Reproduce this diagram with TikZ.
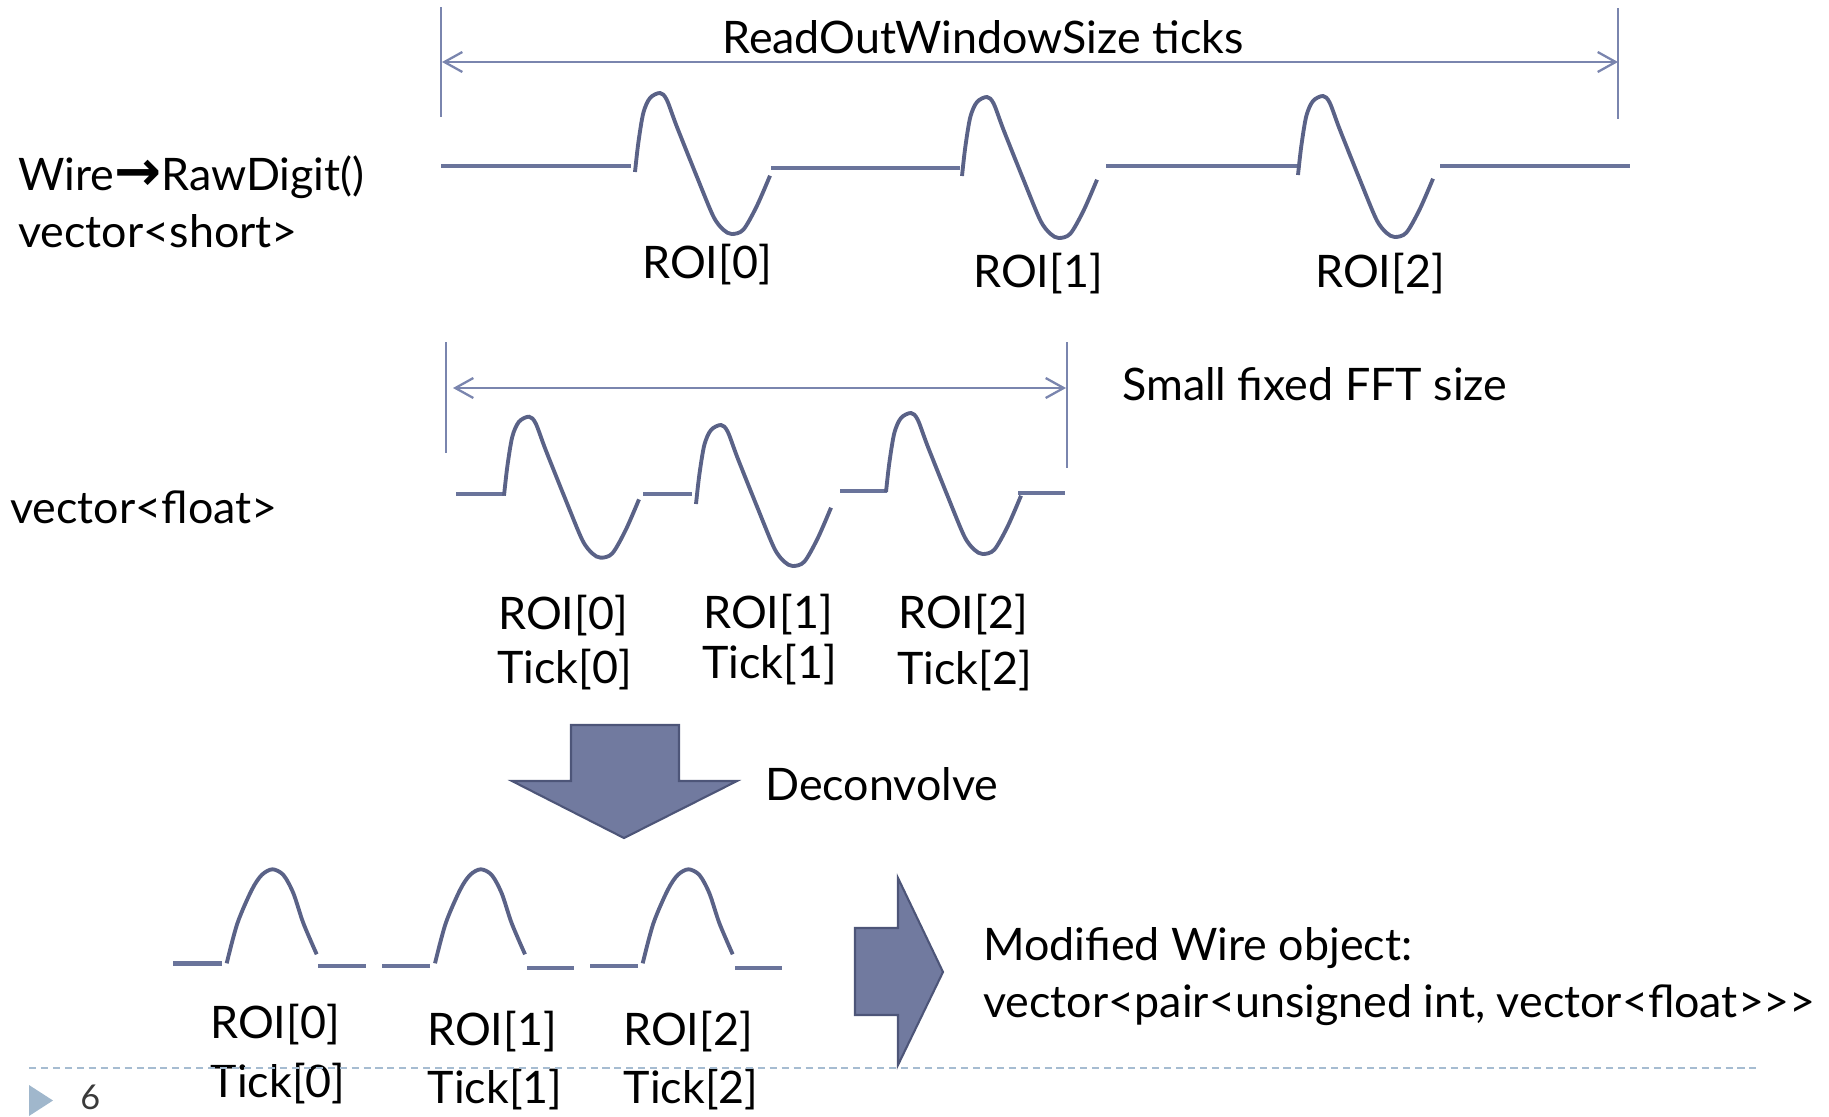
\documentclass[tikz,border=0pt]{standalone}
\usepackage{fontspec}
\setmainfont{Lato}
\newfontfamily\arrfont{DejaVu Sans}
\usepackage{tikz}
\usetikzlibrary{arrows.meta}
\definecolor{sigInk}{HTML}{5A6287}
\definecolor{baseInk}{HTML}{6A749B}
\definecolor{dimInk}{HTML}{7A85AE}
\definecolor{blkFill}{HTML}{717A9F}
\definecolor{blkEdge}{HTML}{4D5578}
\definecolor{footLine}{HTML}{A6BCD1}
\definecolor{footMark}{HTML}{A0B7CC}
\definecolor{pgInk}{HTML}{3A3A3A}
\newcommand{\lblfont}{\fontsize{25.5}{30}\selectfont}
\newcommand{\pgfont}{\fontsize{19.5}{24}\selectfont}
\tikzset{
  lbl/.style     = {font=\lblfont, inner sep=0pt, text=black},
  sig/.style     = {draw=sigInk, line width=2.2pt},
  flat/.style    = {draw=baseInk, line width=2.5pt},
  dimtick/.style = {draw=dimInk, line width=0.9pt},
  dimline/.style = {draw=dimInk, line width=1.3pt,
                    {Straight Barb[length=3.6mm,width=4mm]}-{Straight Barb[length=3.6mm,width=4mm]}},
  blkarr/.style  = {fill=blkFill, draw=blkEdge, line width=1.2pt},
  bipolar/.pic   = {\draw[sig] plot[smooth, tension=0.5] coordinates
                    {(0,0) (3.3,-29) (8.3,-59) (15,-74) (25,-79) (31.7,-72.3)
                     (41.7,-45.7) (61.7,4.3) (78.3,44.3) (88.3,57.7) (96.7,62)
                     (108.3,57.7) (121.7,34.3) (135,3.7)};},
  unipolar/.pic  = {\draw[sig] plot[smooth, tension=0.5] coordinates
                    {(0,0) (10.7,-40) (25,-73.3) (35,-88.3) (45.7,-94)
                     (56.7,-88.3) (66.7,-70) (76.7,-40) (90,-9)};},
}

\begin{document}
\begin{tikzpicture}[x=0.02cm, y=-0.02cm]
  \useasboundingbox (0,0) rectangle (1829,1116);
  % raw digits over the whole window
  \draw[dimtick] (441,7) -- (441,117);
  \draw[dimtick] (1618,8) -- (1618,119);
  \coordinate (rwL) at (442,62);
  \coordinate (rwR) at (1618,62);
  \draw[dimline] (rwL) -- (rwR);
  \node[lbl, anchor=base] (rwlab) at (983,53) {ReadOutWindowSize ticks};
  \node[lbl, anchor=base west] (wire) at (18,190)
    {Wire{\arrfont\bfseries\fontsize{32}{30}\selectfont →}RawDigit()};
  \node[lbl, anchor=base west] (vshort) at (18,247) {vector<short>};
  \foreach \a/\b/\y in {441/631/165.7, 771/960/167.7, 1106/1297/165.7, 1440/1630/165.7}
    \draw[flat] (\a,\y) -- (\b,\y);
  \foreach \x/\y in {635/172, 962/176, 1298/175}
    \pic at (\x,\y) {bipolar};
  \foreach \n/\x/\y in {0/707/278, 1/1038/287, 2/1380/287}
    \node[lbl, anchor=base] (roiA\n) at (\x,\y) {ROI[\n]};

  % packed into the small FFT window
  \draw[dimtick] (446,342) -- (446,453);
  \draw[dimtick] (1067,342) -- (1067,468);
  \coordinate (fftL) at (453,388);
  \coordinate (fftR) at (1066,388);
  \draw[dimline] (fftL) -- (fftR);
  \node[lbl, anchor=base west] (fftlab) at (1122,400) {Small fixed FFT size};
  \node[lbl, anchor=base west] (vfloat) at (10,523) {vector<float>};
  \foreach \a/\b/\y in {456/504/493.7, 643/692/493.7, 840/887/490.7, 1018/1065/492.7}
    \draw[flat] (\a,\y) -- (\b,\y);
  \foreach \x/\y in {504/495.7, 696/504, 886/492}
    \pic at (\x,\y) {bipolar};
  \foreach \n/\x/\r/\t in {0/563/629/683, 1/768/628/678, 2/963/628/684}{%
    \node[lbl, anchor=base] (roiB\n) at (\x,\r) {ROI[\n]};
    \node[lbl, anchor=base] (tickB\n) at (\x+1.5,\t) {Tick[\n]};}

  \draw[blkarr] (571,725) -- (679,725) -- (679,781) -- (737,781) -- (624,838)
    -- (512,781) -- (571,781) -- cycle;
  \node[lbl, anchor=base west] (deconv) at (765,800) {Deconvolve};

  % deconvolved
  \foreach \a/\b/\y in {173/222/963.3, 318/366/966, 382/430/966,
                        527/574/967.7, 590/638/966, 735/782/967.7}
    \draw[flat] (\a,\y) -- (\b,\y);
  \foreach \x in {226.7, 435, 642.7}
    \pic at (\x,963.3) {unipolar};
  \foreach \n/\x/\r/\t in {0/275/1038/1097, 1/492/1045/1103, 2/688/1045/1103}{%
    \node[lbl, anchor=base] (roiC\n) at (\x,\r) {ROI[\n]};
    \node[lbl, anchor=base] (tickC\n) at (\x+3,\t) {Tick[\n]};}

  \draw[blkarr] (855,928) -- (898,928) -- (898,878) -- (943,972) -- (898,1065)
    -- (898,1015) -- (855,1015) -- cycle;
  \node[lbl, anchor=base west] (modw) at (983,960) {Modified Wire object:};
  \node[lbl, anchor=base west] (modv) at (983,1017)
    {vector<pair<unsigned int, vector<float>{}>{}>};

  % slide footer
  \draw[footLine, line width=1.1pt, dash pattern=on 4pt off 2.8pt] (29,1068) -- (1757,1068);
  \fill[footMark] (29,1085) -- (29,1116) -- (53,1100.5) -- cycle;
  \node[font=\pgfont, text=pgInk, inner sep=0pt, anchor=base west] (pgno) at (80,1109) {6};
\end{tikzpicture}
\end{document}
